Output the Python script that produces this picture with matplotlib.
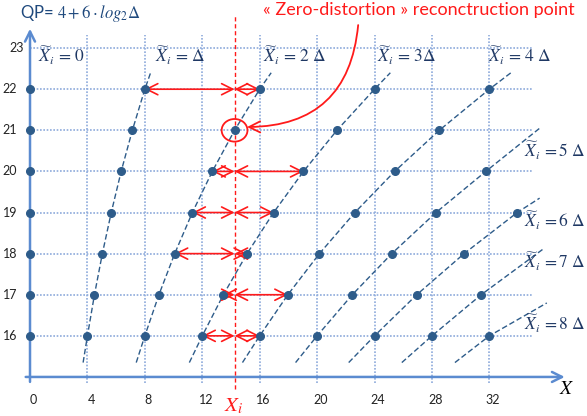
import matplotlib
matplotlib.use("Agg")
import matplotlib.pyplot as plt
from matplotlib.patches import Ellipse

plt.rcParams['font.family'] = ['Lato', 'DejaVu Sans']
plt.rcParams['mathtext.fontset'] = 'stix'

# reconstruction levels  X~ = k * delta  read at each QP
qp_levels = [16, 17, 18, 19, 20, 21, 22]
recon_x = [
    [0.0, 0.0, 0.0, 0.0, 0.0, 0.0, 0.0],
    [4.0, 4.49, 5.04, 5.66, 6.35, 7.13, 8.0],
    [8.0, 8.98, 10.08, 11.31, 12.70, 14.25, 16.0],
    [12.0, 13.47, 15.12, 16.97, 19.05, 21.38, 24.0],
    [16.0, 17.96, 20.16, 22.63, 25.40, 28.51, 32.0],
    [20.0, 22.45, 25.20, 28.28, 31.75],
    [24.0, 26.94, 30.24, 33.94],
    [28.0, 31.43],
    [32.0],
]
# where the dashed curves (k = 1..8) start and stop
curve_lo_qp = 15.35
curve_lo_x = [3.7, 7.4, 11.1, 14.8, 18.5, 22.2, 25.9, 29.6]
curve_hi_x = [8.4, 16.8, 25.1, 33.5, 35.5, 35.5, 35.7, 36.0]
curve_hi_qp = [22.4, 22.4, 22.4, 22.4, 21.05, 19.35, 18.1, 16.8]

x_ticks = [0, 4, 8, 12, 16, 20, 24, 28, 32]
y_ticks = [16, 17, 18, 19, 20, 21, 22, 23]

x_input = 14.25
arrow_qp = [22, 20, 19, 18, 17, 16]
arrow_lo = [8.0, 12.70, 11.31, 10.08, 13.47, 12.0]
arrow_hi = [16.0, 19.05, 16.97, 15.12, 17.96, 16.0]

curve_labels = [r'$\widetilde{X}_i\,=\,0$', r'$\widetilde{X}_i\,=\,\Delta$', r'$\widetilde{X}_i\,=\,2\ \Delta$',
                r'$\widetilde{X}_i\,=\,3\Delta$', r'$\widetilde{X}_i\,=\,4\ \Delta$', r'$\widetilde{X}_i\,=5\ \Delta$',
                r'$\widetilde{X}_i\,=6\ \Delta$', r'$\widetilde{X}_i\,=7\ \Delta$', r'$\widetilde{X}_i\,=8\ \Delta$']
label_x = [0.55, 8.7, 16.2, 24.2, 31.9, 34.4, 34.4, 34.4, 34.4]
label_y = [22.8, 22.8, 22.8, 22.82, 22.82, 20.5, 18.8, 17.8, 16.3]

blue_dark = '#2E5C8A'
grid_col = '#8EAADB'
axis_col = '#5B8BD0'
red = '#FF1A1A'

fig = plt.figure(figsize=(5.87, 4.16), dpi=100)
ax = fig.add_axes([0, 0, 1, 1])
ax.set_xlim(-2.09, 38.8)
ax.set_ylim(14.05, 24.17)
ax.axis('off')

# grid
for q in y_ticks:
    ax.plot([0, 35.05], [q, q], color=grid_col, lw=1.2, ls=(0, (1, 1)), zorder=1)
for xv in x_ticks[1:]:
    ax.plot([xv, xv], [14.85, 23.32], color=grid_col, lw=1.2, ls=(0, (1, 1)), zorder=1)

# axes with arrows
ax.annotate('', xy=(0, 23.47), xytext=(0, 14.88),
            arrowprops=dict(arrowstyle='->', color=axis_col, lw=1.8, mutation_scale=18,
                            shrinkA=0, shrinkB=0), zorder=2)
ax.annotate('', xy=(37.25, 15.0), xytext=(-0.3, 15.0),
            arrowprops=dict(arrowstyle='->', color=axis_col, lw=1.8, mutation_scale=18,
                            shrinkA=0, shrinkB=0), zorder=2)

for xv in x_ticks:
    ax.text(xv + 0.25, 14.45, str(xv), fontsize=9, ha='center', va='center', color='#222222')
for q in y_ticks:
    xpos = -0.9 if q == 23 else -1.4
    ax.text(xpos, q, str(q), fontsize=9, ha='center', va='center', color='#222222')

ax.text(37.4, 14.72, '$X$', fontsize=14, ha='center', va='center', color='black')

# dashed curves
for k in range(1, 9):
    pts = recon_x[k]
    xs = [curve_lo_x[k - 1]] + pts + [curve_hi_x[k - 1]]
    ys = [curve_lo_qp] + qp_levels[:len(pts)] + [curve_hi_qp[k - 1]]
    ax.plot(xs, ys, color=blue_dark, lw=1.0, ls=(0, (4, 2)), zorder=3)

# reconstruction points
for k, pts in enumerate(recon_x):
    ax.plot(pts, qp_levels[:len(pts)], 'o', color=blue_dark, ms=5.5, zorder=5)

for txt, lx, ly in zip(curve_labels, label_x, label_y):
    ax.text(lx, ly, txt, fontsize=12.5, color='#1F3864', ha='left', va='center', zorder=6)

# input value
ax.plot([x_input, x_input], [14.7, 23.8], color=red, lw=1.0, ls=(0, (3, 2)), zorder=4)
ax.text(x_input - 0.1, 14.3, '$X_i$', fontsize=15, color=red, ha='center', va='center')

for q, lo, hi in zip(arrow_qp, arrow_lo, arrow_hi):
    for a, b in [(lo, x_input), (x_input, hi)]:
        ax.annotate('', xy=(b, q), xytext=(a, q),
                    arrowprops=dict(arrowstyle='<->', color=red, lw=1.2, mutation_scale=20,
                                    shrinkA=0, shrinkB=0), zorder=4)

ax.add_patch(Ellipse((x_input, 21.0), 1.8, 0.55, fill=False, edgecolor=red, lw=1.3, zorder=6))
ax.annotate('', xy=(15.12, 21.08), xytext=(22.86, 23.56),
            arrowprops=dict(arrowstyle='->', color=red, lw=1.3, mutation_scale=20,
                            shrinkA=0, shrinkB=0, connectionstyle='arc3,rad=-0.45'), zorder=6)

ax.text(16.25, 23.93, '« Zero-distortion » reconctruction point', fontsize=13, color=red,
        ha='left', va='center')
ax.text(-0.7, 23.85, 'QP= $4 + 6 \\cdot log_2\\Delta$', fontsize=12, color='#1F497D',
        ha='left', va='center')

fig.savefig('out.png', dpi=100)
